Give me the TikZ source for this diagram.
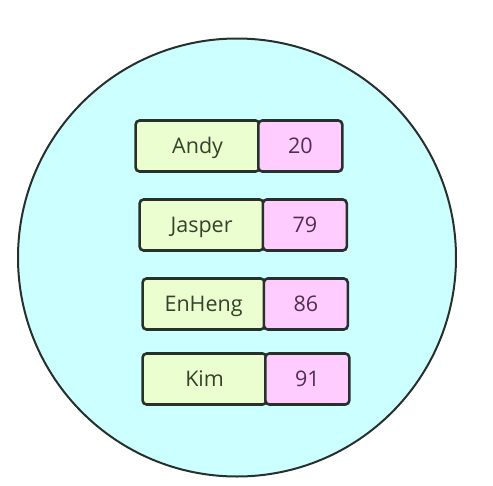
\documentclass[tikz,border=0pt]{standalone}
\usepackage{fontspec}
\setmainfont{Open Sans}
\definecolor{bgc}{HTML}{CCFFFF}
\definecolor{namec}{HTML}{EAFED0}
\definecolor{numc}{HTML}{FFCCFF}
\definecolor{edgec}{HTML}{28302C}
\definecolor{nametxt}{HTML}{34432A}
\definecolor{numtxt}{HTML}{4F2E4F}
\begin{document}
\begin{tikzpicture}[x=1pt,y=-1pt,
  cell/.style={draw=edgec,line width=2.6pt,rounded corners=4pt,anchor=west,
    minimum height=51pt,inner sep=0pt,text height=18pt,text depth=3.4pt,
    font=\fontsize{21.5}{24}\selectfont},
  namebox/.style={cell,fill=namec,text=nametxt},
  numbox/.style={cell,fill=numc,text=numtxt},
  holder/.style={circle,draw=edgec,line width=2pt,fill=bgc,minimum size=438pt,inner sep=0pt}]
\useasboundingbox (0,0) rectangle (493,485);
\node[holder] (set) at (237,257.5) {};
\node[namebox,minimum width=124pt] (n1) at (134.3,146) {Andy};
\node[numbox,minimum width=84pt] (v1) at (257,146) {20};
\node[namebox,minimum width=124pt] (n2) at (138.3,225) {Jasper};
\node[numbox,minimum width=84pt] (v2) at (261.5,225) {79};
\node[namebox,minimum width=122pt] (n3) at (141.3,304) {EnHeng};
\node[numbox,minimum width=84pt] (v3) at (262.5,304) {86};
\node[namebox,minimum width=124pt] (n4) at (141.3,379) {Kim};
\node[numbox,minimum width=84pt] (v4) at (264,379) {91};
\end{tikzpicture}
\end{document}
